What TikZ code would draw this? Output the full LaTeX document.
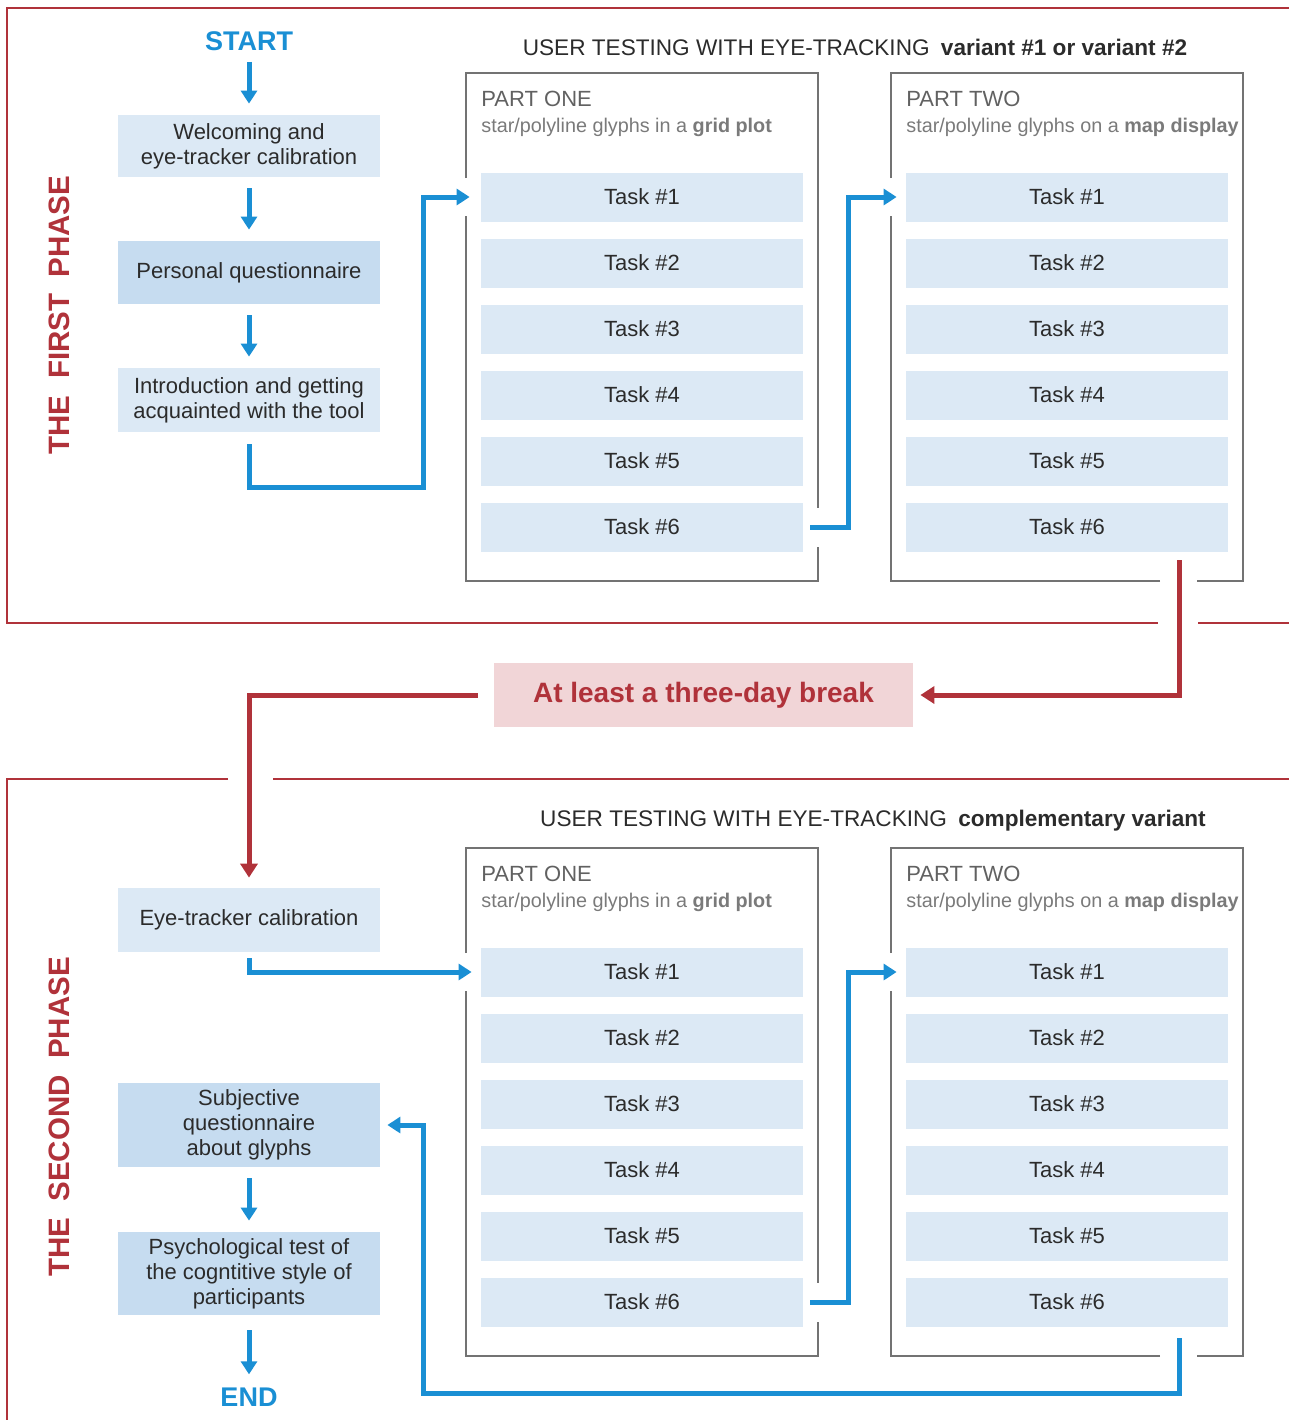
\documentclass[tikz,border=0pt]{standalone}
\usepackage{fontspec}
\setmainfont{Liberation Sans}
\usetikzlibrary{arrows.meta,positioning,calc}

\definecolor{flowblue}{HTML}{1A8FD4}
\definecolor{phasered}{HTML}{B0323A}
\definecolor{pausepink}{HTML}{F1D5D7}
\definecolor{boxlight}{HTML}{DCE9F5}
\definecolor{boxdark}{HTML}{C6DCF0}
\definecolor{framegray}{HTML}{737373}
\definecolor{textgray}{HTML}{2B2B2B}

\tikzset{
  stepbox/.style={fill=boxlight,minimum width=131pt,inner sep=0pt,align=center,
    text=textgray,font=\fontsize{11}{12.5}\selectfont},
  stepdark/.style={stepbox,fill=boxdark},
  taskbox/.style={fill=boxlight,minimum width=161pt,minimum height=24.5pt,inner sep=0pt,
    text=textgray,font=\fontsize{11}{13}\selectfont},
  endlabel/.style={text=flowblue,font=\fontsize{13.5}{15}\selectfont\bfseries,inner sep=0pt},
  phaselabel/.style={rotate=90,text=phasered,font=\fontsize{14.75}{16}\selectfont\bfseries,inner sep=0pt},
  testtitle/.style={anchor=base,text=textgray,font=\fontsize{11.3}{13}\selectfont,inner sep=0pt},
  parthead/.style={anchor=base west,text=black!62,font=\fontsize{11}{13}\selectfont,inner sep=0pt},
  partsub/.style={anchor=base west,text=black!52,font=\fontsize{9.9}{12}\selectfont,inner sep=0pt},
  flow/.style={draw=flowblue,line width=2.5pt,-{Triangle[width=8pt,length=6.5pt]}},
  downflow/.style={flow,shorten <=5.5pt,shorten >=5.5pt},
  pauseflow/.style={draw=phasered,line width=2.5pt,-{Triangle[width=8.5pt,length=7pt]}},
  phaseframe/.style={draw=phasered,line width=1pt},
  partframe/.style={draw=framegray,line width=1.3pt}
}

\begin{document}
\begin{tikzpicture}[x=0.5pt,y=-0.5pt]
\useasboundingbox (0,0) rectangle (1289,1420);

\draw[phaseframe] (1289,8) -- (7,8) -- (7,623) -- (1158,623);
\draw[phaseframe] (1198,623) -- (1289,623);
\draw[phaseframe] (228,779) -- (7,779) -- (7,1420);
\draw[phaseframe] (273,779) -- (1289,779);

\node[phaselabel] (phaseone) at (59,315) {THE~~FIRST~~PHASE};
\node[phaselabel] (phasetwo) at (59,1117) {THE~~SECOND~~PHASE};

\draw[partframe] (466,178) -- (466,73) -- (818,73) -- (818,508);
\draw[partframe] (818,547) -- (818,581) -- (466,581) -- (466,216);
\draw[partframe] (891,178) -- (891,73) -- (1243,73) -- (1243,581) -- (1197,581);
\draw[partframe] (1160,581) -- (891,581) -- (891,216);
\draw[partframe] (466,953) -- (466,848) -- (818,848) -- (818,1283);
\draw[partframe] (818,1322) -- (818,1356) -- (466,1356) -- (466,991);
\draw[partframe] (891,953) -- (891,848) -- (1243,848) -- (1243,1356) -- (1197,1356);
\draw[partframe] (1160,1356) -- (891,1356) -- (891,991);

\node[testtitle] (titleone) at (855,55) {USER TESTING WITH EYE-TRACKING\enspace\textbf{variant \#1 or variant \#2}};
\node[testtitle] (titletwo) at (873,826) {USER TESTING WITH EYE-TRACKING\enspace\textbf{complementary variant}};

\node[parthead] (aone) at (481,106) {PART ONE};
\node[partsub] (asub) at (481,132) {star/polyline glyphs in a \textbf{grid plot}};
\node[parthead] (btwo) at (906,106) {PART TWO};
\node[partsub] (bsub) at (906,132) {star/polyline glyphs on a \textbf{map display}};
\node[parthead] (cone) at (481,881) {PART ONE};
\node[partsub] (csub) at (481,907) {star/polyline glyphs in a \textbf{grid plot}};
\node[parthead] (dtwo) at (906,881) {PART TWO};
\node[partsub] (dsub) at (906,907) {star/polyline glyphs on a \textbf{map display}};

\foreach \i in {1,...,6} {
  \node[taskbox] (a\i) at (642,{131+66*\i}) {Task \#\i};
  \node[taskbox] (b\i) at (1067,{131+66*\i}) {Task \#\i};
  \node[taskbox] (c\i) at (642,{906+66*\i}) {Task \#\i};
  \node[taskbox] (d\i) at (1067,{906+66*\i}) {Task \#\i};
}

\node[endlabel] (start) at (249,41) {START};
\node[stepbox,minimum height=31pt] (welcome) at (249,146) {Welcoming and\\eye-tracker calibration};
\node[stepdark,minimum height=31.5pt] (personal) at (249,272.5) {Personal questionnaire};
\node[stepbox,minimum height=32pt] (intro) at (249,400) {Introduction and getting\\acquainted with the tool};

\node[fill=pausepink,minimum width=209.5pt,minimum height=32pt,text=phasered,
  font=\fontsize{14}{16}\selectfont\bfseries] (pause) at (703.5,695) {At least a three-day break};

\node[stepbox,minimum height=32pt] (calib) at (249,920) {Eye-tracker calibration};
\node[stepdark,minimum height=42pt] (subj) at (249,1125) {Subjective\\questionnaire\\about glyphs};
\node[stepdark,minimum height=41.5pt] (psych) at (249,1273.5) {Psychological test of\\the cogntitive style of\\participants};
\node[endlabel] (finish) at (249,1397) {END};

\draw[downflow] (start) -- (welcome);
\draw[downflow] (welcome) -- (personal);
\draw[downflow] (personal) -- (intro);
\draw[downflow] (subj) -- (psych);
\draw[downflow,shorten <=7.5pt,shorten >=6.5pt] (psych) -- (finish);

\draw[flow] ([yshift=-6pt]intro.south) |- (423,487) |- ([xshift=-5.5pt]a1.west);
\draw[flow] ([xshift=3.5pt]a6.east) -- ++(38,0) |- ([xshift=-4.5pt]b1.west);

\coordinate (outone) at (1179,560);
\draw[pauseflow] (outone) |- ([xshift=3.5pt]pause.east);
\draw[pauseflow] ([xshift=-8pt]pause.west) -| ([yshift=5pt]calib.north);

\draw[flow] ([yshift=-3pt]calib.south) |- ([xshift=-4.5pt]c1.west);
\draw[flow] ([xshift=3.5pt]c6.east) -- ++(38,0) |- ([xshift=-4.5pt]d1.west);

\coordinate (outtwo) at (1179,1338);
\draw[flow] (outtwo) |- (423,1393) |- ([xshift=3.5pt]subj.east);
\end{tikzpicture}
\end{document}
